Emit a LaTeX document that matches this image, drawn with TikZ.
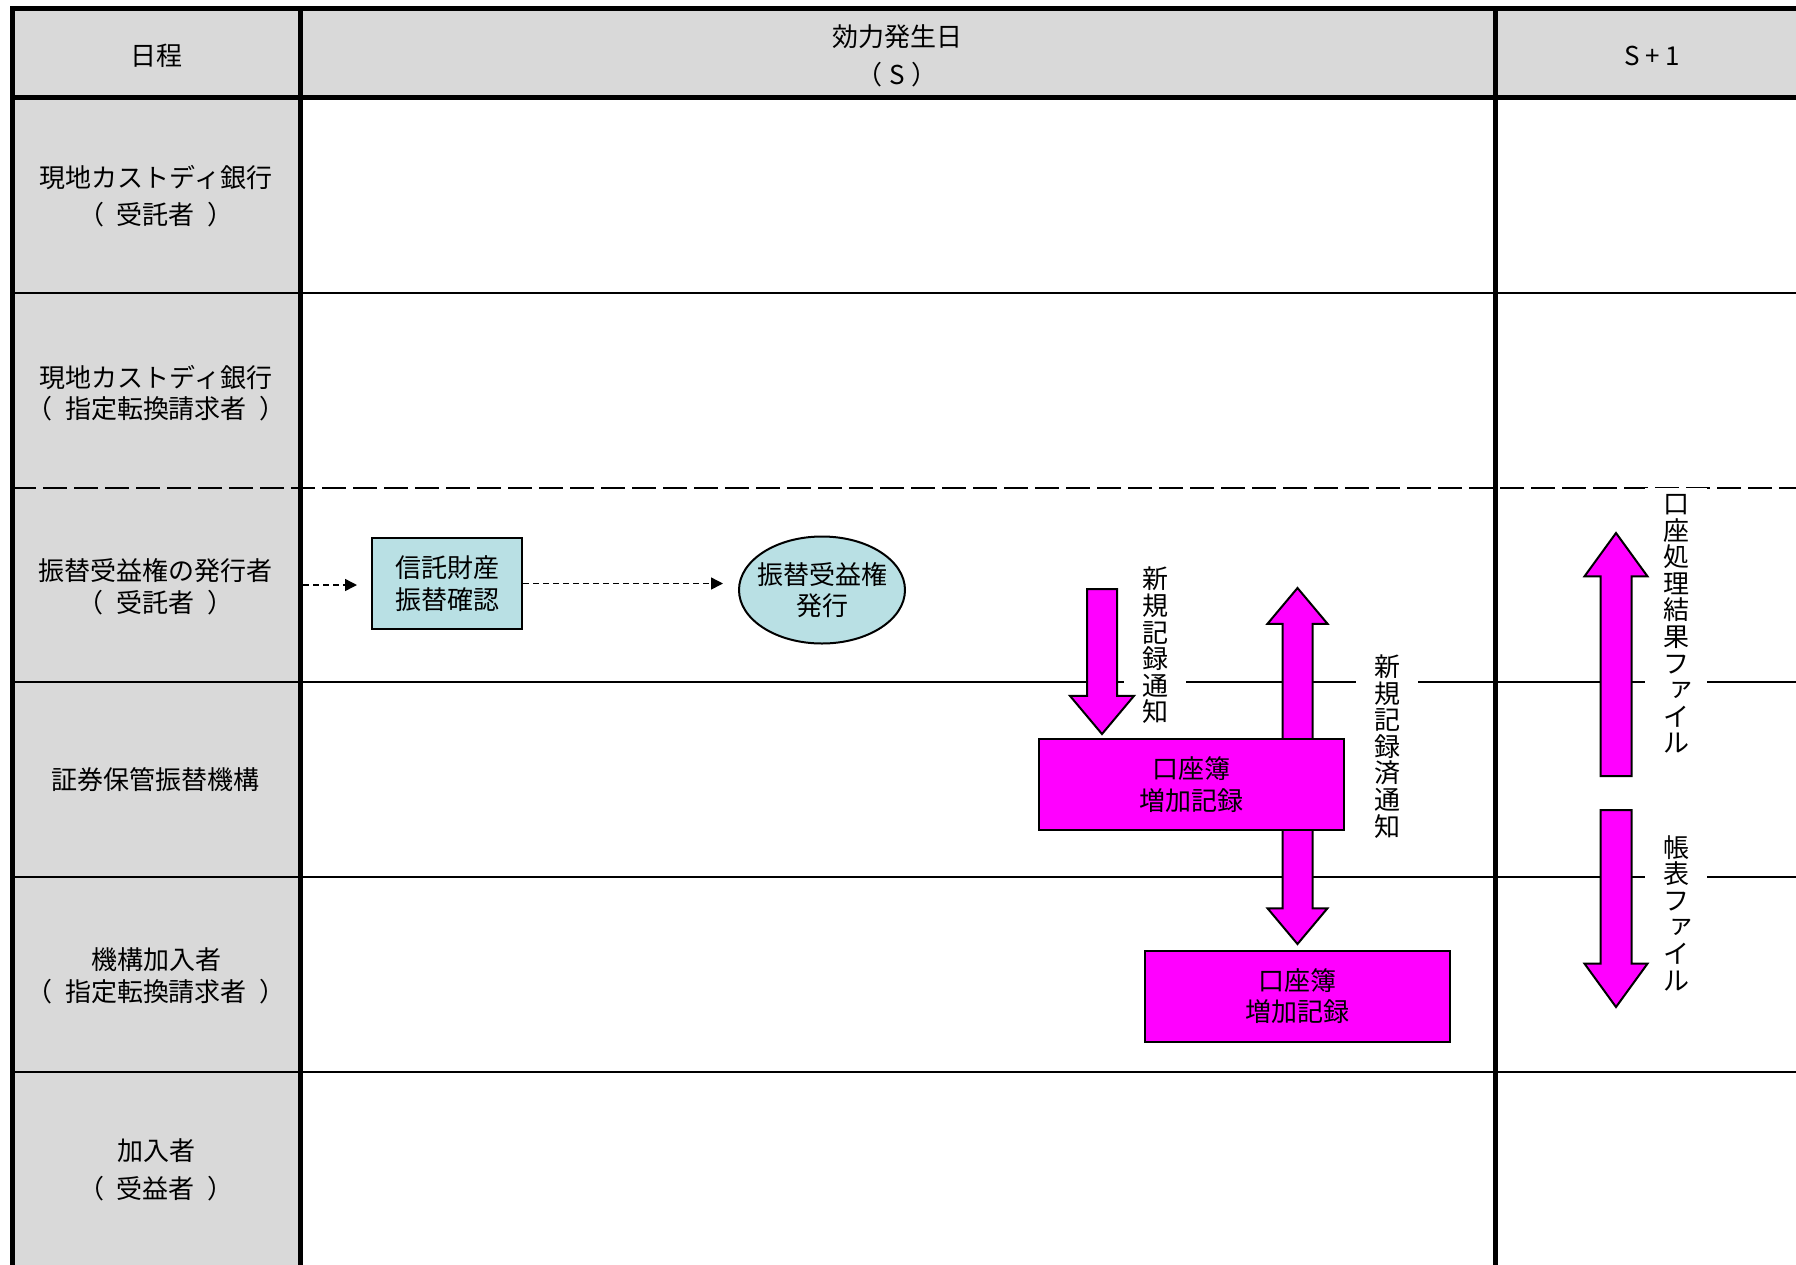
\documentclass[tikz,border=0pt]{standalone}
\usepackage{fontspec}
\setmainfont{Noto Sans CJK JP}
\usetikzlibrary{positioning,shapes.geometric,shapes.arrows,arrows.meta}
\definecolor{lanegray}{RGB}{217,217,217}
\definecolor{paleblue}{RGB}{185,224,228}
\definecolor{hotpink}{RGB}{255,0,255}
\newcommand{\smallkana}[1]{\makebox[1em][l]{\hspace{.2em}\raisebox{.12em}{#1}}}
\newcommand{\inparen}[1]{（\hspace{.5em}#1\hspace{.5em}）}
\tikzset{%
    thickrule/.style={line width=2.5pt},
    thinrule/.style={line width=1pt},
    dashrule/.style={line width=1pt, dash pattern=on 12pt off 3.5pt},
    lanetext/.style={font=\fontsize{13pt}{15.75pt}\selectfont, align=center},
    widetext/.style={font=\fontsize{13pt}{18.75pt}\selectfont, align=center},
    vtext/.style={%
        font=\fontsize{13pt}{13.3pt}\selectfont, align=center,
        fill=white, inner xsep=9pt, inner ysep=3pt
    },
    trustbox/.style={%
        draw, fill=paleblue, line width=1pt, lanetext,
        minimum width=75pt, minimum height=45.5pt
    },
    issueell/.style={%
        ellipse, draw, fill=paleblue, line width=1pt, inner sep=0pt,
        minimum width=83pt, minimum height=53.5pt
    },
    ledger/.style={%
        draw, fill=hotpink, line width=1pt, lanetext,
        minimum width=152.5pt, minimum height=45.5pt
    },
    flow/.style={%
        line width=0.75pt, dash pattern=on 3pt off 2pt,
        -{Triangle[length=6pt,width=6pt]}
    },
    fatarrow/.style={%
        single arrow, draw, fill=hotpink, line width=1pt,
        inner xsep=0pt, inner ysep=7pt, anchor=tail,
        single arrow head extend=8.5pt, single arrow tip angle=80
    },
    filearrow/.style={%
        fatarrow, inner ysep=7.25pt,
        single arrow head extend=8pt, single arrow tip angle=72
    },
    fatboth/.style={%
        double arrow, draw, fill=hotpink, line width=1pt,
        inner xsep=0pt, inner ysep=7pt,
        double arrow head extend=7.5pt, double arrow tip angle=80
    }
}

\begin{document}
\begin{tikzpicture}[x=0.5pt, y=-0.5pt]
    \useasboundingbox (0,0) rectangle (1796,1265);
    \clip (0,0) rectangle (1796,1265);
    % lanes
    \fill[lanegray] (12,8) rectangle (300,1270);
    \fill[lanegray] (300,8) rectangle (1800,97.5);
    \draw[thinrule]
        (12,293) -- (1800,293)
        (12,682) -- (1800,682)
        (12,877) -- (1800,877)
        (12,1072) -- (1800,1072)
        (12,1267) -- (1800,1267)
        ;
    \draw[dashrule] (12,488) -- (1800,488);
    \draw[thickrule]
        (12,1270) -- (12,8) -- (1800,8)
        (12,97.5) -- (1800,97.5)
        (300,8) -- (300,1270)
        (1495,8) -- (1495,1270)
        ;

    % headers
    \node[lanetext] (sched) at (156,56) {日程};
    \node[widetext] (sday) at (897,56) {効力発生日\\（\hspace{.25em}S\hspace{.25em}）};
    \node[lanetext] (snext) at (1652,56) {S + 1};

    % lane names
    \node[widetext] (cust) at (156,196) {現地カストディ銀行\\\inparen{受託者}};
    \node[lanetext] (custconv) at (156,393) {現地カストディ銀行\\\inparen{指定転換請求者}};
    \node[lanetext] (issuer) at (156,587) {振替受益権の発行者\\\inparen{受託者}};
    \node[lanetext] (jasdec) at (156,780) {証券保管振替機構};
    \node[lanetext] (member) at (156,976) {機構加入者\\\inparen{指定転換請求者}};
    \node[widetext] (holder) at (156,1170) {加入者\\\inparen{受益者}};

    % vertical labels
    \node[vtext] (newnote) at (1155,645.5) {新\\規\\記\\録\\通\\知};
    \node[vtext] (donenote) at (1387,746.5) {新\\規\\記\\録\\済\\通\\知};
    \node[vtext] (resfile) at (1676,624) {口\\座\\処\\理\\結\\果\\フ\\\smallkana{ァ}\\イ\\ル};
    \node[vtext] (repfile) at (1676,913) {帳\\表\\フ\\\smallkana{ァ}\\イ\\ル};

    % issuer lane
    \coordinate (laneedge) at (303,585);
    \node[trustbox] (trust) at (447,583.5) {信託財産\\振替確認};
    \node[issueell, label={[lanetext]center:振替受益権\\発行}] (issue) at (822,590) {};
    \draw[flow, shorten >=7pt] (laneedge) -- (laneedge -| trust.west);
    \draw[flow, shorten >=7.5pt] (trust.east) -- (trust.east -| issue.west);

    % book entries
    \node[fatarrow, rotate=-90, minimum height=72.5pt] (newarrow) at (1102,588) {};
    \node[fatboth, rotate=90, minimum height=178pt] (syncarrow) at (1297.5,766) {};
    \node[ledger] (jledger) at (1191.5,784.5) {口座簿\\増加記録};
    \node[ledger] (mledger) at (1297.5,996) {口座簿\\増加記録};

    % files
    \node[filearrow, rotate=90, minimum height=121.5pt] (resarrow) at (1616,777) {};
    \node[filearrow, rotate=-90, minimum height=98.5pt] (reparrow) at (1616,809) {};
\end{tikzpicture}
\end{document}
